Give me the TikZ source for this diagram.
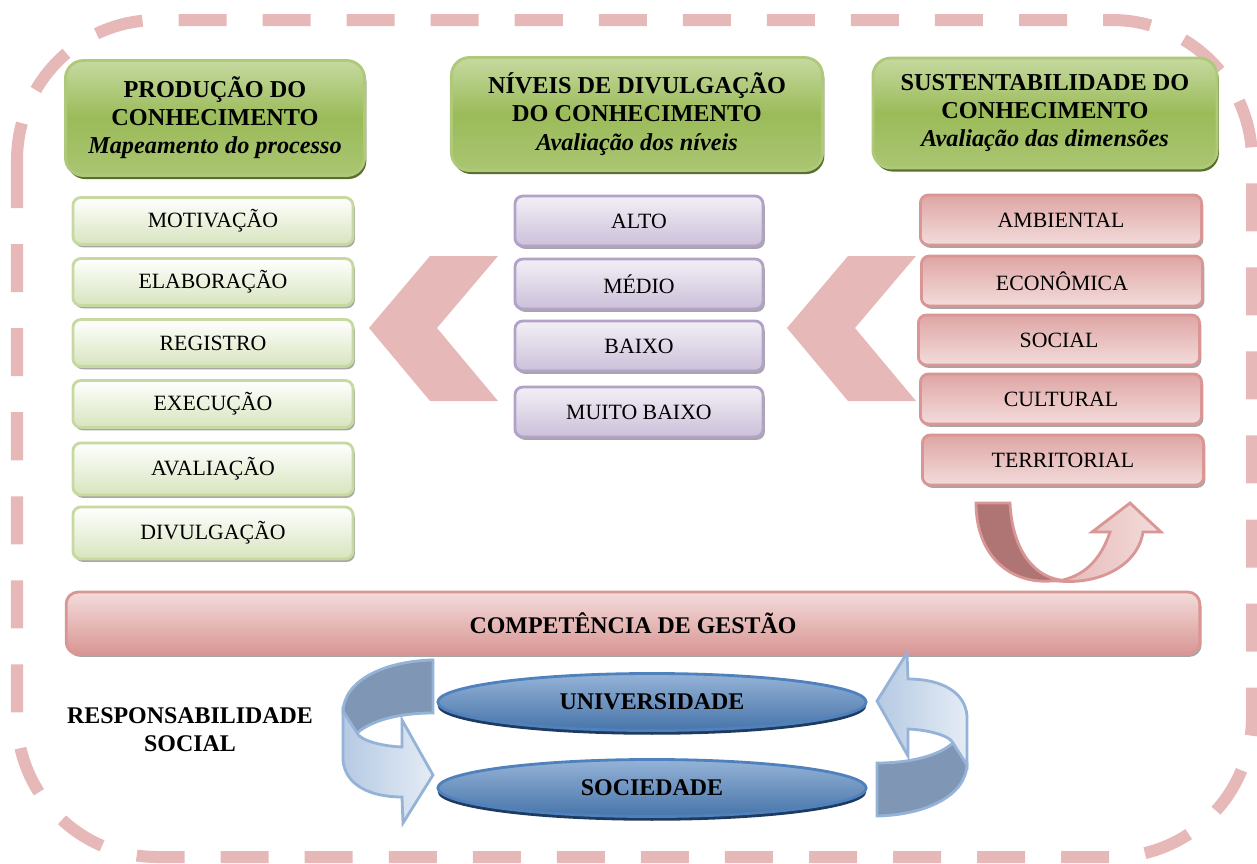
\documentclass[tikz,border=0pt]{standalone}
\usepackage{fontspec}
\setmainfont{Liberation Serif}
\usetikzlibrary{shapes,shadows}
\definecolor{rosa}{HTML}{E6B9B8}
\definecolor{verde}{HTML}{9BBB59}
\definecolor{verdeclaro}{HTML}{C6D9A0}
\definecolor{verdeescuro}{HTML}{5A7030}
\definecolor{verdelista}{HTML}{D7E4BD}
\definecolor{roxo}{HTML}{CCC0DA}
\definecolor{roxoborda}{HTML}{B3A2C7}
\definecolor{vermelho}{HTML}{D99694}
\definecolor{vermelhoclaro}{HTML}{F2DCDB}
\definecolor{vinho}{HTML}{AF7574}
\definecolor{azul}{HTML}{4F81BD}
\definecolor{azulclaro}{HTML}{95B3D7}
\definecolor{azulescuro}{HTML}{7F96B4}
\definecolor{azulsombra}{HTML}{1F3A60}
\tikzstyle{borda}=[draw=rosa,line width=0.12cm,dash pattern=on 0.48cm off 0.36cm,
rounded corners=1.4cm]
\tikzstyle{cabeca}=[rectangle,rounded corners=0.18cm,draw=verde!80!white,line width=0.8pt,
top color=verdeclaro,bottom color=verde!85!white,middle color=verde,align=center,inner sep=0pt,
drop shadow={shadow xshift=0.5pt,shadow yshift=-1pt,fill=verdeescuro,opacity=1},
font=\fontsize{6.9}{8}\selectfont\bfseries]
\tikzstyle{itemverde}=[rectangle,rounded corners=0.08cm,draw=verdeclaro,line width=0.8pt,
top color=white,bottom color=verdelista,minimum width=2.8cm,minimum height=0.47cm,
drop shadow={shadow xshift=0.5pt,shadow yshift=-0.8pt,fill=gray!70,opacity=1},
font=\fontsize{6.2}{7}\selectfont]
\tikzstyle{itemroxo}=[itemverde,draw=roxoborda,top color=roxo!25!white,bottom color=roxo,
minimum width=2.48cm,minimum height=0.5cm]
\tikzstyle{itemvermelho}=[itemverde,draw=vermelho,top color=vermelho!85!white,
bottom color=vermelhoclaro,minimum width=2.81cm,minimum height=0.5cm]
\tikzstyle{faixa}=[itemvermelho,top color=vermelhoclaro,bottom color=vermelho,
minimum width=11.33cm,minimum height=0.62cm,rounded corners=0.12cm,
font=\fontsize{6.8}{8}\selectfont\bfseries]
\tikzstyle{elipse}=[ellipse,draw=azul,line width=0.8pt,top color=azulclaro,bottom color=azul!90!black,
minimum width=4.28cm,minimum height=0.57cm,inner sep=0pt,
drop shadow={shadow xshift=0pt,shadow yshift=-1.2pt,fill=azulsombra,opacity=1},
font=\fontsize{6.8}{8}\selectfont\bfseries]
\tikzstyle{chevron}=[fill=rosa]
\tikzstyle{fundo}=[fill=azulescuro,draw=azulclaro,line width=0.8pt]
\tikzstyle{frente}=[left color=azulclaro!70!white,right color=azulclaro!25!white,
draw=azulclaro,line width=0.8pt]
\newcommand{\setavolta}{%
  \path[fundo] (433,660) .. controls (385,661) and (343,680) .. (343,713)
    -- (357,733) .. controls (372,720) and (400,713) .. (433,713) -- cycle;
  \path[frente] (343,711) -- (343,760) .. controls (345,785) and (370,797) .. (402,797)
    -- (403,823) -- (433,775) -- (402,720) -- (402,747)
    .. controls (380,746) and (360,740) .. (357,733) -- cycle;
}

\begin{document}
\begin{tikzpicture}[x=0.01cm,y=-0.01cm]
        \useasboundingbox (0,0) rectangle (1257,863);
        \draw[borda] (17,20) rectangle (1252,857);
        % setas grandes
        \path[chevron] (498,256) -- (430,256) -- (369,328) -- (430,401) -- (498,401) -- (437,328) -- cycle;
        \path[chevron] (916,256) -- (848,256) -- (787,328) -- (848,401) -- (916,401) -- (855,328) -- cycle;
        % cabecalhos
        \node [style=cabeca,minimum width=2.99cm,minimum height=1.15cm] (prod) at (215,118)
            {PRODUÇÃO DO\\CONHECIMENTO\\\textit{Mapeamento do processo}};
        \node [style=cabeca,minimum width=3.71cm,minimum height=1.13cm] (niv) at (637,114)
            {NÍVEIS DE DIVULGAÇÃO\\DO CONHECIMENTO\\\textit{Avaliação dos níveis}};
        \node [style=cabeca,minimum width=3.44cm,minimum height=1.1cm] (sust) at (1045,113)
            {SUSTENTABILIDADE DO\\CONHECIMENTO\\\textit{Avaliação das dimensões}};
        % processo
        \node [style=itemverde] (mot) at (213,221) {MOTIVAÇÃO};
        \node [style=itemverde] (ela) at (213,282) {ELABORAÇÃO};
        \node [style=itemverde] (reg) at (213,343) {REGISTRO};
        \node [style=itemverde] (exe) at (213,404) {EXECUÇÃO};
        \node [style=itemverde,minimum height=0.52cm] (ava) at (213,469) {AVALIAÇÃO};
        \node [style=itemverde,minimum height=0.52cm] (div) at (213,533) {DIVULGAÇÃO};
        % niveis
        \node [style=itemroxo] (alto) at (639,221) {ALTO};
        \node [style=itemroxo] (medio) at (639,284) {MÉDIO};
        \node [style=itemroxo] (baixo) at (639,346) {BAIXO};
        \node [style=itemroxo] (mbaixo) at (639,412) {MUITO BAIXO};
        % dimensoes
        \node [style=itemvermelho] (amb) at (1061,220) {AMBIENTAL};
        \node [style=itemvermelho] (eco) at (1062,281) {ECONÔMICA};
        \node [style=itemvermelho] (soc) at (1059,340) {SOCIAL};
        \node [style=itemvermelho] (cul) at (1061,399) {CULTURAL};
        \node [style=itemvermelho] (ter) at (1063,460) {TERRITORIAL};
        % seta em U
        \path[fill=vinho,draw=vermelho,line width=0.8pt] (976,503) -- (1010,503)
            .. controls (1012,545) and (1030,575) .. (1060,580)
            .. controls (1010,588) and (976,555) .. (976,503) -- cycle;
        \path[left color=rosa,right color=vermelhoclaro,draw=vermelho,line width=0.8pt] (1058,581)
            .. controls (1100,585) and (1138,565) .. (1143,532) -- (1161,532) -- (1130,503)
            -- (1092,532) -- (1110,532) .. controls (1100,562) and (1082,577) .. (1058,581) -- cycle;
        \node [style=faixa] (comp) at (633,623) {COMPETÊNCIA DE GESTÃO};
        % responsabilidade social
        \node [align=center,font=\fontsize{6.8}{8}\selectfont\bfseries] (resp) at (190,730)
            {RESPONSABILIDADE\\SOCIAL};
        \setavolta
        \begin{scope}[rotate around={180:(655,738)}]
            \setavolta
        \end{scope}
        \node [style=elipse] (univ) at (652,702) {UNIVERSIDADE};
        \node [style=elipse] (socd) at (652,788) {SOCIEDADE};
    \end{tikzpicture}
\end{document}
